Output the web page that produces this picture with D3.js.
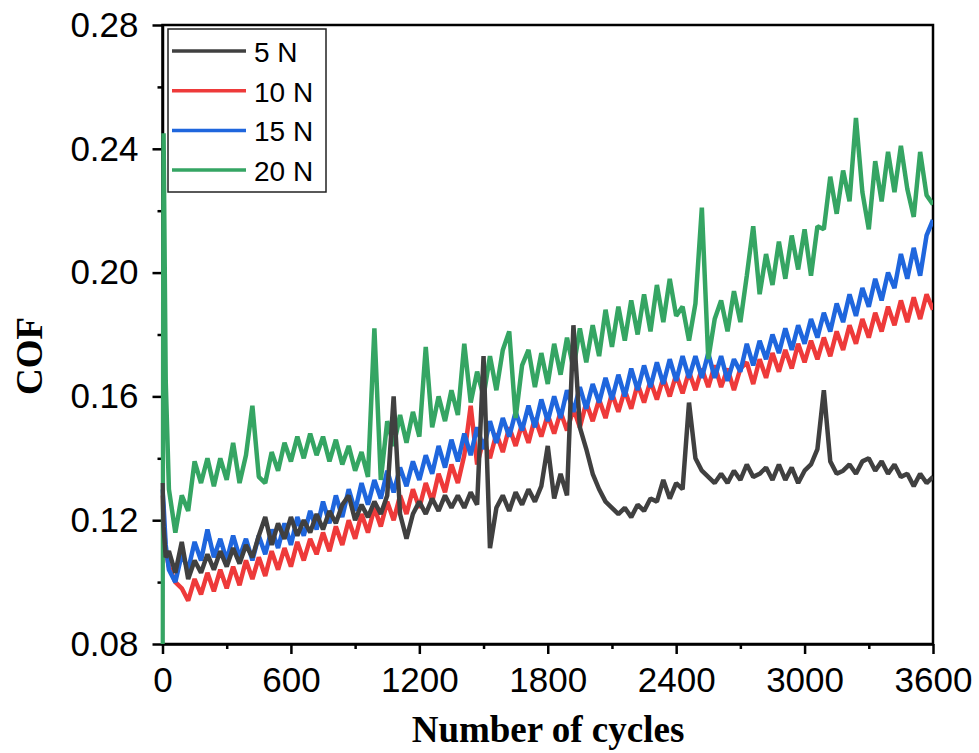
<!DOCTYPE html>
<html>
<head>
<meta charset="utf-8">
<script src="https://cdn.jsdelivr.net/npm/d3@7"></script>
<style>
  body { margin: 0; background: #fff; }
  svg { display: block; }
</style>
</head>
<body>
<div id="chart"></div>
<script>
// cycles shared by every series (a few early points, then every 30 cycles)
const cycles = [0, 5, 15].concat(d3.range(30, 3601, 30));

const seriesNames = ['5 N', '10 N', '15 N', '20 N'];
const seriesColors = ['#404040', '#ee3a3a', '#1f66dd', '#35a563'];

const cof5 = [
  0.132, 0.118, 0.108,
  0.110, 0.103, 0.113, 0.101, 0.107, 0.103, 0.109, 0.104, 0.110, 0.105,
  0.111, 0.106, 0.112, 0.108, 0.115, 0.121, 0.112, 0.119, 0.114, 0.121,
  0.115, 0.120, 0.116, 0.122, 0.117, 0.123, 0.119, 0.125, 0.128, 0.120,
  0.125, 0.121, 0.126, 0.122, 0.128, 0.160, 0.122, 0.114, 0.122, 0.126,
  0.122, 0.127, 0.123, 0.128, 0.124, 0.128, 0.124, 0.129, 0.125, 0.173,
  0.111, 0.124, 0.128, 0.123, 0.129, 0.125, 0.130, 0.126, 0.131, 0.144,
  0.127, 0.135, 0.128, 0.183, 0.150, 0.143, 0.135, 0.130, 0.126, 0.124,
  0.122, 0.124, 0.121, 0.125, 0.123, 0.127, 0.126, 0.133, 0.127, 0.132,
  0.130, 0.158, 0.140, 0.136, 0.134, 0.132, 0.135, 0.132, 0.136, 0.133,
  0.138, 0.134, 0.135, 0.137, 0.133, 0.138, 0.133, 0.137, 0.132, 0.136,
  0.138, 0.143, 0.162, 0.139, 0.135, 0.136, 0.138, 0.135, 0.139, 0.140,
  0.136, 0.139, 0.135, 0.138, 0.134, 0.135, 0.131, 0.135, 0.132, 0.134
];

const cof10 = [
  0.128, 0.120, 0.110,
  0.105, 0.100, 0.098, 0.094, 0.101, 0.096, 0.103, 0.097, 0.104, 0.098,
  0.105, 0.099, 0.107, 0.101, 0.108, 0.102, 0.110, 0.104, 0.111, 0.105,
  0.113, 0.107, 0.114, 0.109, 0.116, 0.110, 0.118, 0.112, 0.120, 0.114,
  0.122, 0.116, 0.124, 0.118, 0.126, 0.120, 0.128, 0.122, 0.130, 0.124,
  0.132, 0.126, 0.135, 0.129, 0.138, 0.132, 0.141, 0.157, 0.138, 0.146,
  0.140, 0.148, 0.142, 0.150, 0.144, 0.151, 0.145, 0.153, 0.147, 0.154,
  0.148, 0.155, 0.149, 0.156, 0.150, 0.158, 0.152, 0.159, 0.153, 0.161,
  0.155, 0.162, 0.156, 0.164, 0.158, 0.165, 0.159, 0.166, 0.160, 0.167,
  0.161, 0.168, 0.162, 0.169, 0.163, 0.170, 0.163, 0.169, 0.162, 0.169,
  0.171, 0.164, 0.172, 0.166, 0.174, 0.168, 0.175, 0.169, 0.177, 0.171,
  0.178, 0.172, 0.179, 0.173, 0.181, 0.175, 0.183, 0.177, 0.185, 0.179,
  0.187, 0.181, 0.189, 0.183, 0.191, 0.184, 0.192, 0.185, 0.193, 0.188
];

const cof15 = [
  0.130, 0.125, 0.112,
  0.104, 0.100, 0.109, 0.104, 0.113, 0.107, 0.117, 0.108, 0.114, 0.107,
  0.115, 0.108, 0.114, 0.107, 0.115, 0.109, 0.117, 0.111, 0.119, 0.112,
  0.121, 0.115, 0.123, 0.117, 0.126, 0.119, 0.128, 0.121, 0.130, 0.123,
  0.132, 0.125, 0.133, 0.127, 0.136, 0.129, 0.137, 0.131, 0.139, 0.133,
  0.141, 0.135, 0.144, 0.137, 0.146, 0.139, 0.148, 0.141, 0.150, 0.143,
  0.152, 0.145, 0.153, 0.147, 0.155, 0.149, 0.157, 0.150, 0.159, 0.152,
  0.160, 0.153, 0.162, 0.155, 0.163, 0.156, 0.164, 0.158, 0.166, 0.159,
  0.167, 0.160, 0.169, 0.162, 0.170, 0.163, 0.171, 0.164, 0.172, 0.165,
  0.173, 0.166, 0.173, 0.166, 0.174, 0.166, 0.173, 0.165, 0.172, 0.168,
  0.177, 0.170, 0.178, 0.172, 0.180, 0.174, 0.182, 0.175, 0.183, 0.177,
  0.185, 0.179, 0.187, 0.181, 0.190, 0.184, 0.193, 0.186, 0.195, 0.189,
  0.198, 0.191, 0.200, 0.195, 0.206, 0.198, 0.208, 0.199, 0.212, 0.217
];

const cof20 = [
  0.080, 0.245, 0.165,
  0.130, 0.116, 0.128, 0.123, 0.139, 0.132, 0.140, 0.131, 0.140, 0.133,
  0.145, 0.132, 0.141, 0.157, 0.134, 0.132, 0.142, 0.136, 0.145, 0.139,
  0.147, 0.140, 0.148, 0.141, 0.147, 0.139, 0.146, 0.138, 0.144, 0.136,
  0.142, 0.134, 0.182, 0.133, 0.152, 0.144, 0.154, 0.145, 0.155, 0.147,
  0.176, 0.150, 0.160, 0.152, 0.162, 0.154, 0.177, 0.158, 0.168, 0.160,
  0.173, 0.162, 0.175, 0.181, 0.153, 0.170, 0.175, 0.163, 0.174, 0.164,
  0.177, 0.167, 0.179, 0.169, 0.182, 0.171, 0.183, 0.173, 0.188, 0.176,
  0.189, 0.178, 0.191, 0.180, 0.193, 0.181, 0.196, 0.184, 0.198, 0.186,
  0.189, 0.178, 0.190, 0.221, 0.172, 0.185, 0.191, 0.181, 0.194, 0.184,
  0.199, 0.215, 0.193, 0.206, 0.196, 0.210, 0.198, 0.212, 0.201, 0.214,
  0.199, 0.215, 0.214, 0.231, 0.219, 0.233, 0.223, 0.250, 0.226, 0.214,
  0.236, 0.223, 0.239, 0.226, 0.241, 0.227, 0.218, 0.239, 0.225, 0.222
];

const xTicks = [0, 600, 1200, 1800, 2400, 3000, 3600];
const yTicks = [0.08, 0.12, 0.16, 0.20, 0.24, 0.28];

const width = 979, height = 753;
const plot = { left: 162.5, right: 933, top: 25, bottom: 644 };

const svg = d3.select('#chart')
  .append('svg')
  .attr('width', width)
  .attr('height', height);

const x = d3.scaleLinear().domain([0, 3600]).range([plot.left, plot.right]);
const y = d3.scaleLinear().domain([0.08, 0.28]).range([plot.bottom, plot.top]);

const tickFont = '"Liberation Sans", Arial, sans-serif';
const titleFont = '"Liberation Serif", "Times New Roman", serif';

// frame (top and right sides)
svg.append('rect')
  .attr('x', plot.left)
  .attr('y', plot.top)
  .attr('width', plot.right - plot.left)
  .attr('height', plot.bottom - plot.top)
  .attr('fill', 'none')
  .attr('stroke', '#000')
  .attr('stroke-width', 2.5);

// minor ticks
svg.append('g')
  .attr('transform', `translate(0,${plot.bottom})`)
  .call(d3.axisBottom(x).tickValues(d3.range(300, 3600, 600)).tickSize(5).tickFormat(''))
  .call(g => g.select('.domain').remove())
  .selectAll('line').attr('stroke-width', 2.5);

svg.append('g')
  .attr('transform', `translate(${plot.left},0)`)
  .call(d3.axisLeft(y).tickValues([0.10, 0.14, 0.18, 0.22, 0.26]).tickSize(5).tickFormat(''))
  .call(g => g.select('.domain').remove())
  .selectAll('line').attr('stroke-width', 2.5);

// major axes
const xAxis = svg.append('g')
  .attr('transform', `translate(0,${plot.bottom})`)
  .call(d3.axisBottom(x).tickValues(xTicks).tickSize(10).tickSizeOuter(0).tickPadding(13).tickFormat(d3.format('d')));

const yAxis = svg.append('g')
  .attr('transform', `translate(${plot.left},0)`)
  .call(d3.axisLeft(y).tickValues(yTicks).tickSize(10).tickSizeOuter(0).tickPadding(14).tickFormat(d3.format('.2f')));

[xAxis, yAxis].forEach(g => {
  g.select('.domain').attr('stroke-width', 2.5);
  g.selectAll('.tick line').attr('stroke-width', 2.5);
  g.selectAll('.tick text')
    .attr('fill', '#000')
    .style('font-family', tickFont)
    .style('font-size', '35px');
});

// lines
svg.append('clipPath').attr('id', 'plot-clip')
  .append('rect')
  .attr('x', plot.left - 2)
  .attr('y', plot.top)
  .attr('width', plot.right - plot.left + 2)
  .attr('height', plot.bottom - plot.top);

const seriesValues = [cof5, cof10, cof15, cof20];
const series = seriesNames.map((name, i) => ({
  name,
  color: seriesColors[i],
  points: cycles.map((c, j) => ({ c, v: seriesValues[i][j] }))
}));

const line = d3.line()
  .x(d => x(d.c))
  .y(d => y(d.v));

// drawing order: red, blue, green, then dark grey on top
const drawOrder = [1, 2, 3, 0];
svg.append('g')
  .attr('clip-path', 'url(#plot-clip)')
  .selectAll('path')
  .data(drawOrder.map(i => series[i]))
  .enter()
  .append('path')
  .attr('d', d => line(d.points))
  .attr('fill', 'none')
  .attr('stroke', d => d.color)
  .attr('stroke-width', 4.5)
  .attr('stroke-linejoin', 'bevel');

// legend
const legend = svg.append('g');
legend.append('rect')
  .attr('x', 168)
  .attr('y', 29)
  .attr('width', 158)
  .attr('height', 163)
  .attr('fill', '#fff')
  .attr('stroke', '#222')
  .attr('stroke-width', 1.5);

const entry = legend.selectAll('g.entry')
  .data(series)
  .enter()
  .append('g')
  .attr('class', 'entry')
  .attr('transform', (d, i) => `translate(0,${51 + i * 39.7})`);

entry.append('line')
  .attr('x1', 172)
  .attr('x2', 246)
  .attr('stroke', d => d.color)
  .attr('stroke-width', 3.5);

entry.append('text')
  .attr('x', 254)
  .attr('y', 11)
  .style('font-family', tickFont)
  .style('font-size', '28px')
  .text(d => d.name);

// axis titles
svg.append('text')
  .attr('text-anchor', 'middle')
  .attr('x', 548)
  .attr('y', 742)
  .style('font-family', titleFont)
  .style('font-weight', 'bold')
  .style('font-size', '37px')
  .text('Number of cycles');

svg.append('text')
  .attr('text-anchor', 'middle')
  .attr('transform', 'translate(42,356) rotate(-90)')
  .style('font-family', titleFont)
  .style('font-weight', 'bold')
  .style('font-size', '37px')
  .text('COF');
</script>
</body>
</html>
